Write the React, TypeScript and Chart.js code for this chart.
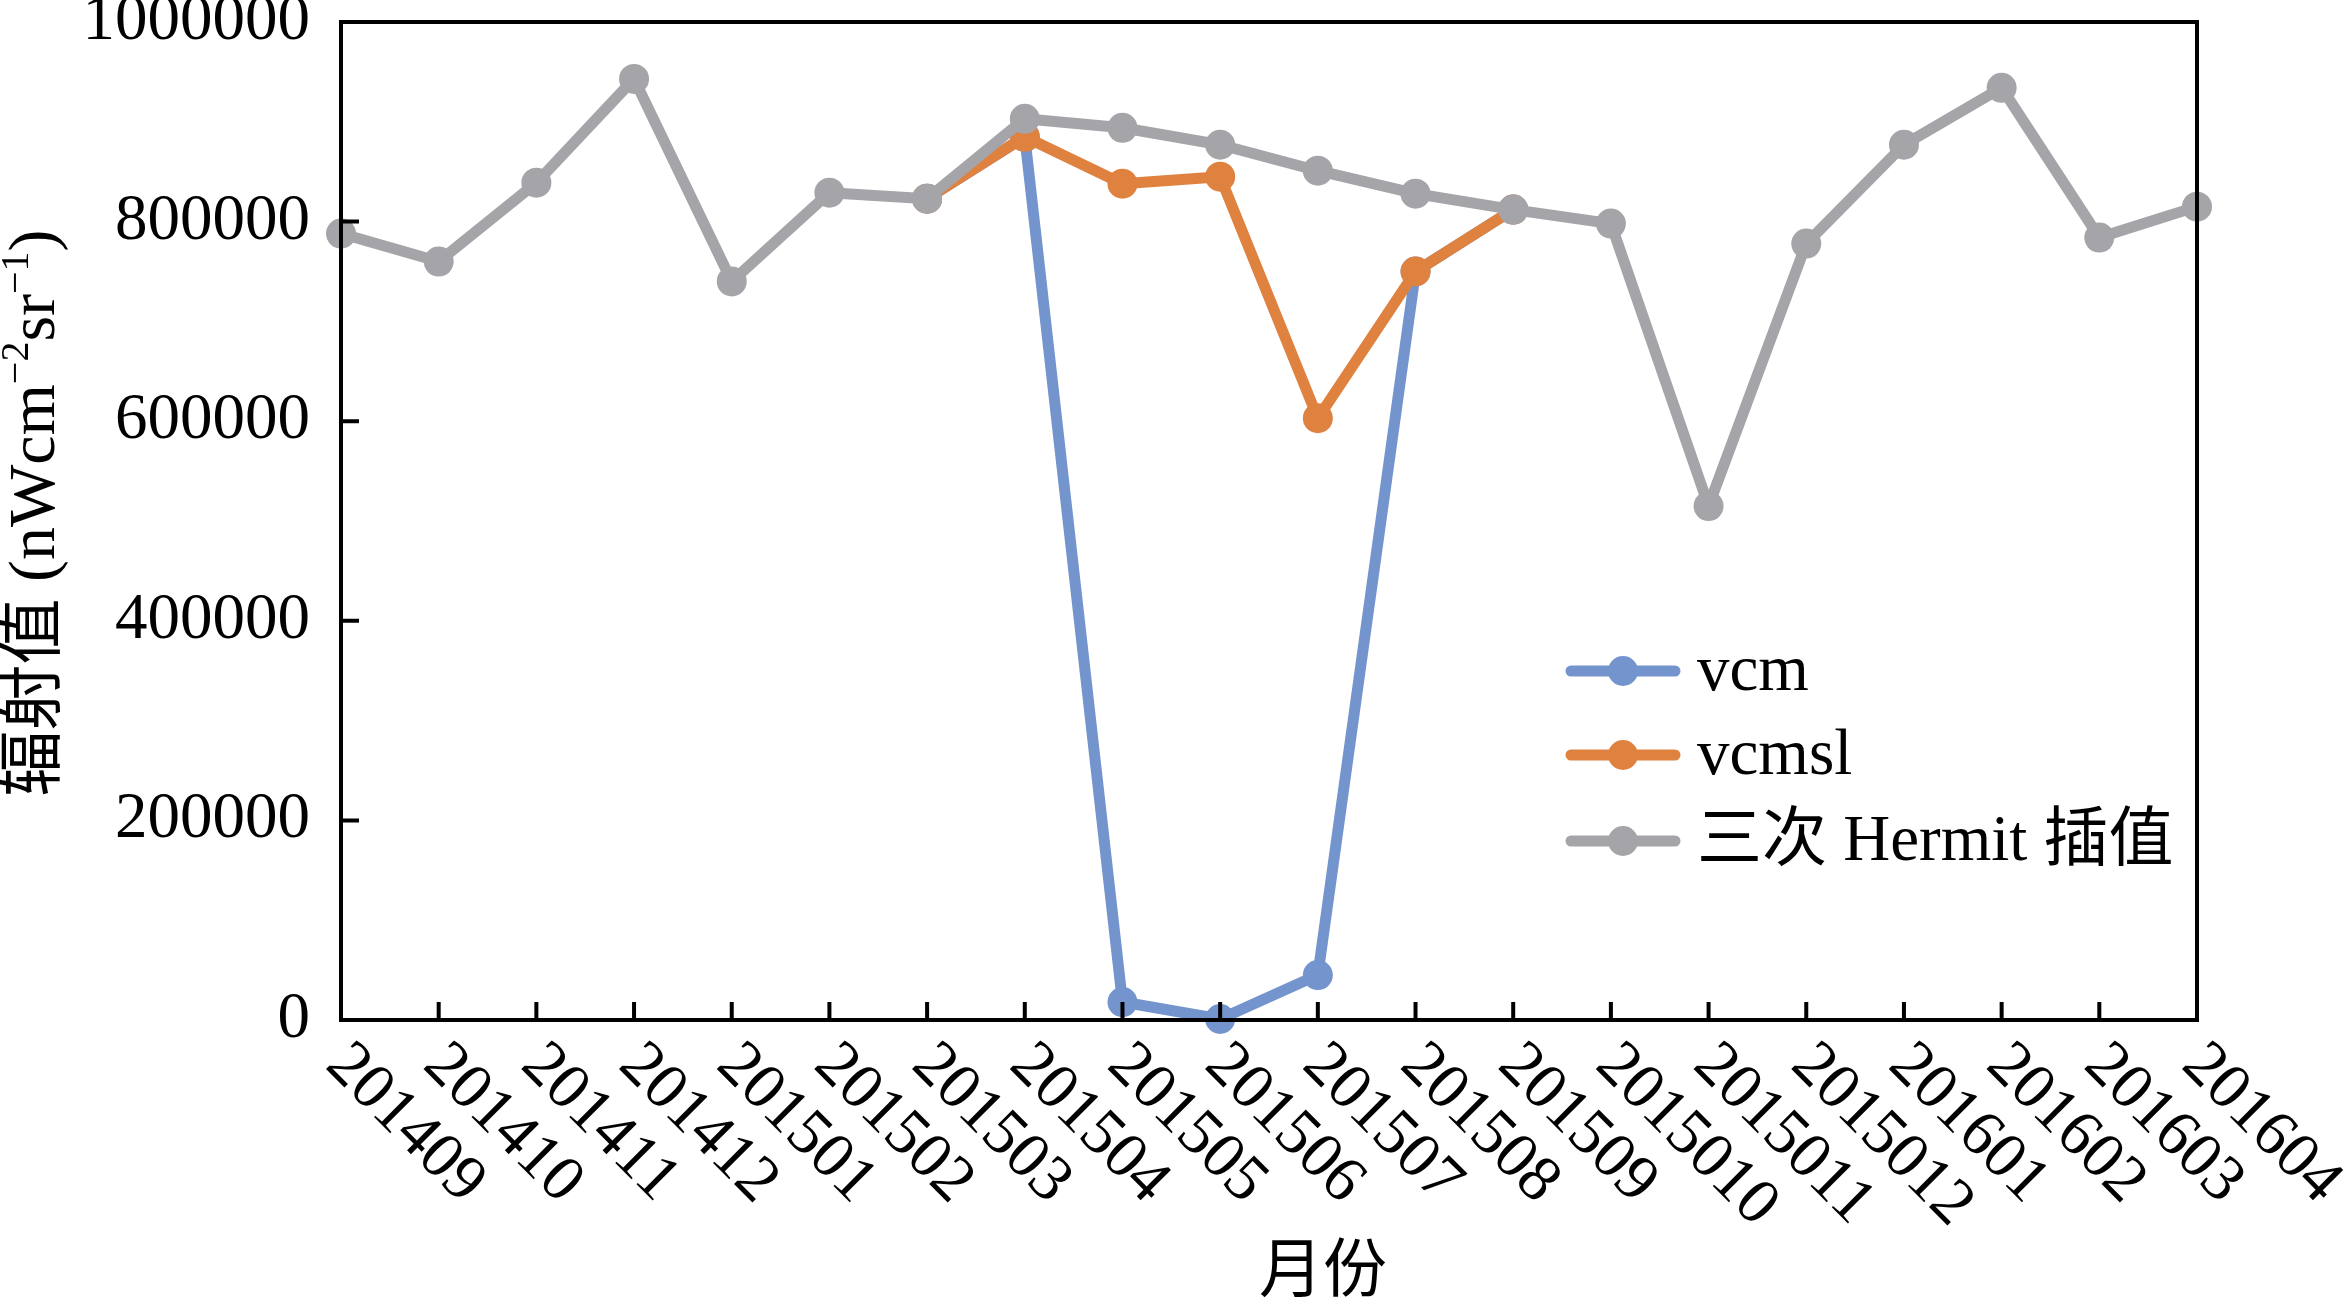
import React, { useEffect, useRef } from 'react';
import { Chart, registerables } from 'chart.js';

Chart.register(...registerables);

// ---------- data ----------
const LABELS = [
  '201409', '201410', '201411', '201412', '201501', '201502', '201503', '201504',
  '201505', '201506', '201507', '201508', '201509', '2015010', '2015011', '2015012',
  '201601', '201602', '201603', '201604',
];
const HERMIT = [
  788000, 760000, 839000, 943000, 740000, 829000, 823000, 903000,
  894000, 877000, 851000, 828000, 812000, 798000, 515000, 778000,
  877000, 934000, 784000, 815000,
];
const VCMSL = [
  null, null, null, null, null, null, 823000, 885000,
  838000, 845000, 603000, 750000, 812000, null, null, null,
  null, null, null, null,
];
const VCM = [
  null, null, null, null, null, null, 823000, 885000,
  18000, 1000, 45000, 750000, 812000, null, null, null,
  null, null, null, null,
];
const Y_TICKS = [0, 200000, 400000, 600000, 800000, 1000000];
const SERIES_NAMES = ['vcm', 'vcmsl', '三次 Hermit 插值'];
const X_TITLE = '月份';
const Y_TITLE = [
  { t: '辐射值 (nWcm', sup: false },
  { t: '−2', sup: true },
  { t: 'sr', sup: false },
  { t: '−1', sup: true },
  { t: ')', sup: false },
];

// ---------- style ----------
const W = 2347;
const H = 1305;
const FONT = '"Liberation Serif", "Times New Roman", "Noto Sans CJK SC", serif';
const BLUE = '#7494CD';
const ORANGE = '#E0823F';
const GRAY = '#A5A4A8';
const LINE_W = 11;
const PT_R = 15;

function mk(label: string, data: (number | null)[], color: string) {
  return {
    label,
    data,
    borderColor: color,
    backgroundColor: color,
    pointBackgroundColor: color,
    pointBorderColor: color,
    pointBorderWidth: 0,
    pointRadius: PT_R,
    pointHoverRadius: PT_R,
    borderWidth: LINE_W,
    borderJoinStyle: 'round' as const,
    borderCapStyle: 'round' as const,
    tension: 0,
    fill: false,
    clip: false as any,
  };
}

export default function App() {
  const ref = useRef<HTMLCanvasElement | null>(null);

  useEffect(() => {
    document.body.style.margin = '0';
    const canvas = ref.current!;

    const decor = {
      id: 'decor',
      afterDatasetsDraw(chart: any) {
        const { ctx, chartArea } = chart;
        const { left, right, top, bottom } = chartArea;
        const xs = chart.scales.x;
        const ys = chart.scales.y;
        ctx.save();
        ctx.strokeStyle = '#000';
        ctx.lineWidth = 4;
        ctx.lineCap = 'butt';
        ctx.strokeRect(left, top, right - left, bottom - top);
        ctx.beginPath();
        LABELS.forEach((_, i) => {
          const x = xs.getPixelForValue(i);
          ctx.moveTo(x, bottom);
          ctx.lineTo(x, bottom - 18);
        });
        Y_TICKS.forEach((v) => {
          const y = ys.getPixelForValue(v);
          ctx.moveTo(left, y);
          ctx.lineTo(left + 18, y);
        });
        ctx.stroke();
        ctx.restore();
      },
      afterDraw(chart: any) {
        const { ctx, chartArea } = chart;
        const xs = chart.scales.x;
        ctx.save();
        ctx.fillStyle = '#000';

        // rotated x tick labels
        ctx.font = `65px ${FONT}`;
        ctx.textAlign = 'left';
        ctx.textBaseline = 'middle';
        LABELS.forEach((lab, i) => {
          const x = xs.getPixelForValue(i);
          ctx.save();
          ctx.translate(x - 5, chartArea.bottom + 35);
          ctx.rotate(Math.PI / 4);
          ctx.fillText(lab, 0, 0);
          ctx.restore();
        });

        // x title
        ctx.textAlign = 'center';
        ctx.font = `64px ${FONT}`;
        ctx.fillText(X_TITLE, 1323, 1274);

        // y title with superscripts
        const mainF = `66px ${FONT}`;
        const supF = `40px ${FONT}`;
        let total = 0;
        const widths = Y_TITLE.map((p) => {
          ctx.font = p.sup ? supF : mainF;
          const w = ctx.measureText(p.t).width;
          total += w;
          return w;
        });
        ctx.save();
        ctx.translate(37, 513);
        ctx.rotate(-Math.PI / 2);
        ctx.textAlign = 'left';
        ctx.textBaseline = 'middle';
        let cx = -total / 2;
        Y_TITLE.forEach((p, i) => {
          ctx.font = p.sup ? supF : mainF;
          ctx.fillText(p.t, cx, p.sup ? -20 : 0);
          cx += widths[i];
        });
        ctx.restore();

        // legend
        const colors = [BLUE, ORANGE, GRAY];
        const rowsY = [671, 755, 841];
        ctx.font = `65px ${FONT}`;
        ctx.textAlign = 'left';
        ctx.textBaseline = 'middle';
        SERIES_NAMES.forEach((name, i) => {
          const y = rowsY[i];
          ctx.strokeStyle = colors[i];
          ctx.lineWidth = LINE_W;
          ctx.lineCap = 'round';
          ctx.beginPath();
          ctx.moveTo(1571, y);
          ctx.lineTo(1675, y);
          ctx.stroke();
          ctx.fillStyle = colors[i];
          ctx.beginPath();
          ctx.arc(1623, y, PT_R, 0, Math.PI * 2);
          ctx.fill();
          ctx.fillStyle = '#000';
          ctx.fillText(name, 1697, y + 2);
        });
        ctx.restore();
      },
    };

    const chart = new Chart(canvas, {
      type: 'line',
      data: {
        labels: LABELS,
        datasets: [
          mk(SERIES_NAMES[2], HERMIT, GRAY),
          mk(SERIES_NAMES[1], VCMSL, ORANGE),
          mk(SERIES_NAMES[0], VCM, BLUE),
        ] as any,
      },
      options: {
        responsive: false,
        maintainAspectRatio: false,
        devicePixelRatio: 1,
        animation: false,
        events: [],
        layout: { padding: { left: 0, right: 150, top: 22, bottom: 0 } },
        plugins: {
          legend: { display: false },
          tooltip: { enabled: false },
          title: { display: false },
        },
        scales: {
          x: {
            type: 'category',
            offset: false,
            grid: { display: false, drawTicks: false },
            border: { display: false },
            ticks: { display: false },
            afterFit(s: any) {
              s.height = 285;
              s.paddingLeft = 0;
              s.paddingRight = 0;
            },
          },
          y: {
            type: 'linear',
            min: 0,
            max: 1000000,
            afterBuildTicks(s: any) {
              s.ticks = Y_TICKS.map((v) => ({ value: v }));
            },
            grid: { display: false, drawTicks: false },
            border: { display: false },
            ticks: {
              padding: 31,
              color: '#000',
              font: { family: FONT, size: 65 },
              autoSkip: false,
              callback: (v: any) => String(v),
            },
            afterFit(s: any) {
              s.width = 341;
              s.paddingTop = 0;
              s.paddingBottom = 0;
            },
          },
        },
      } as any,
      plugins: [decor],
    });

    return () => chart.destroy();
  }, []);

  return (
    <canvas
      ref={ref}
      width={W}
      height={H}
      style={{ display: 'block', width: W, height: H }}
    />
  );
}
